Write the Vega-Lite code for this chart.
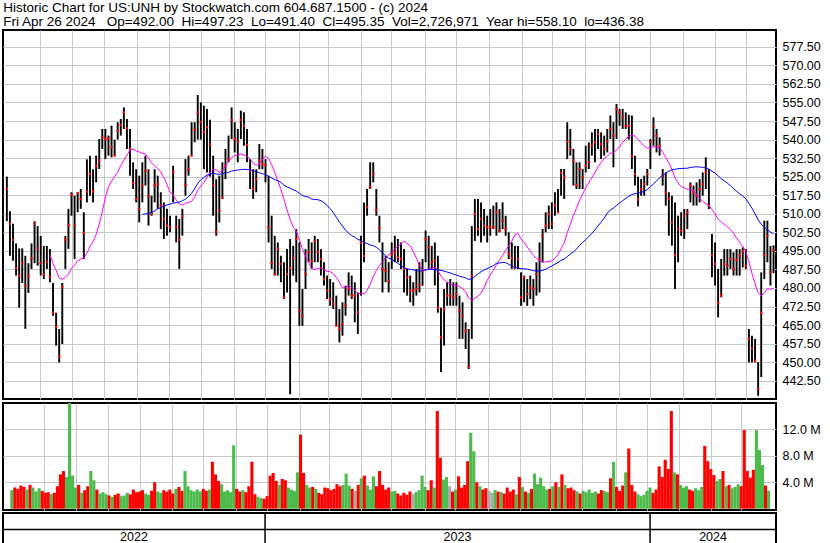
{
"$schema":"https://vega.github.io/schema/vega-lite/v6.json",
"background":"white",
"padding":{"left":1,"top":1,"right":0,"bottom":0},
"title":{"text":["Historic Chart for US:UNH by Stockwatch.com 604.687.1500 - (c) 2024","Fri Apr 26 2024\u00a0\u00a0 Op=492.00\u00a0 Hi=497.23\u00a0 Lo=491.40\u00a0 Cl=495.35\u00a0 Vol=2,726,971\u00a0 Year hi=558.10\u00a0 lo=436.38"],"anchor":"start","font":"Liberation Sans","fontSize":13.5,"fontWeight":"normal","color":"black","lineHeight":13.5,"offset":1,"dx":2},
"config":{"view":{"stroke":"black","strokeWidth":2},"axis":{"labelFont":"Liberation Sans","labelColor":"black","labelFontSize":12.5,"labelOverlap":false,"gridColor":"#c8c8c8","gridWidth":1,"gridOpacity":1,"ticks":false,"domain":false,"title":null},"font":"Liberation Sans"},
"datasets":{"p":[
{"i":-1,"h":525,"l":507,"c":520,"v":2.8},
{"i":1,"h":511,"l":493,"c":506,"v":3.2},
{"i":3,"h":506,"l":491,"c":499.5,"v":3.0},
{"i":5,"h":498,"l":485,"c":488,"v":3.5},
{"i":7,"h":496,"l":472,"c":485,"v":3.3},
{"i":9,"h":496,"l":482,"c":490,"v":2.9},
{"i":11,"h":493,"l":463.5,"c":481,"v":3.6},
{"i":13,"h":490,"l":478,"c":485,"v":3.2},
{"i":15,"h":498,"l":487.7,"c":492,"v":2.6},
{"i":17,"h":507,"l":490,"c":506,"v":3.1},
{"i":19,"h":505,"l":489,"c":496,"v":2.7},
{"i":21,"h":501,"l":485,"c":490,"v":2.4},
{"i":23,"h":497,"l":483.6,"c":485.5,"v":2.5},
{"i":25,"h":497,"l":487.7,"c":490.5,"v":2.2},
{"i":27,"h":495.7,"l":482.3,"c":484.5,"v":2.4},
{"i":29,"h":482,"l":468.8,"c":470,"v":3.4},
{"i":31,"h":470,"l":456.7,"c":464.3,"v":5.2},
{"i":33,"h":463.4,"l":449.9,"c":452.2,"v":5.7},
{"i":35,"h":482,"l":457.3,"c":480.3,"v":4.8},
{"i":37,"h":501,"l":487.7,"c":499.5,"v":16.5},
{"i":39,"h":512,"l":495.8,"c":505.4,"v":5.0},
{"i":41,"h":518.7,"l":509.2,"c":517.6,"v":3.2},
{"i":43,"h":517.3,"l":491.7,"c":505.2,"v":3.6},
{"i":45,"h":518.7,"l":510.6,"c":518.4,"v":2.4},
{"i":47,"h":520,"l":512,"c":516,"v":2.8},
{"i":49,"h":510.6,"l":491.7,"c":502.2,"v":3.4},
{"i":51,"h":532,"l":514.6,"c":519,"v":5.7},
{"i":53,"h":533.5,"l":517.3,"c":526,"v":4.3},
{"i":55,"h":528,"l":514.6,"c":519,"v":2.9},
{"i":57,"h":533.5,"l":522.7,"c":529.4,"v":2.3},
{"i":59,"h":540.2,"l":528.1,"c":531.5,"v":2.5},
{"i":61,"h":544.3,"l":536.2,"c":540.9,"v":2.2},
{"i":63,"h":544.3,"l":532.1,"c":540.2,"v":2.0},
{"i":65,"h":541.6,"l":533.5,"c":540.5,"v":1.8},
{"i":67,"h":545.6,"l":532.8,"c":536.9,"v":2.1},
{"i":69,"h":540,"l":533.5,"c":533.5,"v":2.3},
{"i":71,"h":547,"l":540,"c":543.6,"v":1.9},
{"i":73,"h":548.3,"l":541.6,"c":545.9,"v":2.0},
{"i":75,"h":553,"l":544.3,"c":551,"v":2.4},
{"i":77,"h":548.3,"l":536.2,"c":544.5,"v":2.2},
{"i":79,"h":544.3,"l":525.4,"c":536.2,"v":2.9},
{"i":81,"h":530.8,"l":520,"c":522.4,"v":2.5},
{"i":83,"h":528,"l":514.6,"c":516,"v":2.6},
{"i":85,"h":525.4,"l":506.5,"c":512,"v":2.8},
{"i":87,"h":530.8,"l":514.6,"c":521.4,"v":2.3},
{"i":89,"h":533.5,"l":521.4,"c":527.4,"v":2.1},
{"i":91,"h":528,"l":505.2,"c":517.3,"v":2.7},
{"i":93,"h":517.3,"l":509.2,"c":509.9,"v":4.0},
{"i":95,"h":528,"l":514.6,"c":521.4,"v":2.6},
{"i":97,"h":525.4,"l":512,"c":522,"v":2.4},
{"i":99,"h":518.7,"l":503.8,"c":513.3,"v":2.8},
{"i":101,"h":514.6,"l":499.8,"c":507.9,"v":2.6},
{"i":103,"h":512,"l":501.1,"c":505.2,"v":2.9},
{"i":105,"h":509.2,"l":502.5,"c":504.5,"v":2.3},
{"i":107,"h":529.4,"l":514.6,"c":527,"v":3.0},
{"i":109,"h":509.2,"l":498.4,"c":504.8,"v":3.3},
{"i":111,"h":507.9,"l":487.7,"c":499.5,"v":2.7},
{"i":113,"h":512,"l":501.1,"c":509,"v":5.7},
{"i":115,"h":532.1,"l":517.3,"c":521.7,"v":3.4},
{"i":117,"h":533.5,"l":525.4,"c":528,"v":2.8},
{"i":119,"h":547,"l":533.5,"c":533.5,"v":2.6},
{"i":121,"h":547,"l":538.9,"c":544,"v":2.9},
{"i":123,"h":558,"l":540,"c":551,"v":2.6},
{"i":125,"h":555,"l":540,"c":547,"v":3.0},
{"i":127,"h":553.7,"l":528,"c":543,"v":2.7},
{"i":129,"h":552.4,"l":526.7,"c":545,"v":2.9},
{"i":131,"h":548,"l":525,"c":538,"v":7.1},
{"i":133,"h":533.5,"l":509.2,"c":521.6,"v":5.2},
{"i":135,"h":524,"l":501.1,"c":502.8,"v":4.2},
{"i":137,"h":525.4,"l":506.5,"c":511.2,"v":3.7},
{"i":139,"h":530.8,"l":516,"c":516.6,"v":2.6},
{"i":141,"h":536.2,"l":524,"c":529.4,"v":2.8},
{"i":143,"h":541.6,"l":530.8,"c":531.9,"v":2.5},
{"i":145,"h":553,"l":540.2,"c":547.9,"v":9.6},
{"i":147,"h":547,"l":534.8,"c":540.2,"v":3.0},
{"i":149,"h":544.3,"l":530.8,"c":539.1,"v":2.6},
{"i":151,"h":551.7,"l":540.2,"c":548,"v":2.8},
{"i":153,"h":551,"l":537.5,"c":545.6,"v":2.5},
{"i":155,"h":544.3,"l":530.8,"c":537.8,"v":3.4},
{"i":157,"h":532.1,"l":520,"c":527.4,"v":7.1},
{"i":159,"h":528,"l":516,"c":520,"v":2.2},
{"i":161,"h":528,"l":518.7,"c":524,"v":1.8},
{"i":163,"h":538.2,"l":528,"c":531.5,"v":1.6},
{"i":165,"h":536.2,"l":528,"c":530.1,"v":1.5},
{"i":167,"h":532.1,"l":522.7,"c":529.7,"v":1.9},
{"i":169,"h":525.4,"l":498.4,"c":504.5,"v":5.0},
{"i":171,"h":509.2,"l":487.7,"c":490,"v":5.4},
{"i":173,"h":501.1,"l":485,"c":485.6,"v":4.2},
{"i":175,"h":498.4,"l":485,"c":495.8,"v":3.6},
{"i":177,"h":493,"l":482.3,"c":489.7,"v":4.5},
{"i":179,"h":490.4,"l":475.5,"c":476.2,"v":4.3},
{"i":181,"h":495.7,"l":478.2,"c":485.6,"v":3.2},
{"i":183,"h":499.8,"l":437,"c":488,"v":2.9},
{"i":185,"h":497,"l":485,"c":492,"v":2.7},
{"i":187,"h":503.8,"l":482.3,"c":499.8,"v":5.5},
{"i":189,"h":498.4,"l":464.7,"c":470.8,"v":11.2},
{"i":191,"h":479.6,"l":464.7,"c":468.8,"v":5.4},
{"i":193,"h":495.7,"l":479.6,"c":485.6,"v":3.6},
{"i":195,"h":499.8,"l":490.4,"c":494.4,"v":3.2},
{"i":197,"h":498.4,"l":487.7,"c":491,"v":3.3},
{"i":199,"h":501.1,"l":490.4,"c":499.1,"v":3.0},
{"i":201,"h":499.8,"l":490.4,"c":494.4,"v":2.4},
{"i":203,"h":495.7,"l":485,"c":491.7,"v":2.2},
{"i":205,"h":490.4,"l":481,"c":483.6,"v":3.2},
{"i":207,"h":485,"l":475.5,"c":478.9,"v":3.1},
{"i":209,"h":483.6,"l":472.8,"c":475.5,"v":2.8},
{"i":211,"h":482.3,"l":471.5,"c":473.5,"v":3.0},
{"i":213,"h":476.9,"l":464.7,"c":464.7,"v":3.7},
{"i":215,"h":471.5,"l":458,"c":463.4,"v":3.4},
{"i":217,"h":474.2,"l":460.7,"c":465.4,"v":3.6},
{"i":219,"h":480.9,"l":468.8,"c":472.8,"v":5.3},
{"i":221,"h":486.3,"l":476.9,"c":479.6,"v":3.5},
{"i":223,"h":485,"l":475.5,"c":476.9,"v":3.0},
{"i":225,"h":482.3,"l":466.1,"c":476.9,"v":2.7},
{"i":227,"h":478.2,"l":461.4,"c":470.1,"v":3.6},
{"i":229,"h":501.1,"l":476.9,"c":498.4,"v":4.6},
{"i":231,"h":514.6,"l":490.4,"c":493,"v":5.0},
{"i":233,"h":520,"l":509.2,"c":512.6,"v":3.5},
{"i":235,"h":530.8,"l":520,"c":520.7,"v":2.9},
{"i":237,"h":530.8,"l":522.7,"c":526.1,"v":4.9},
{"i":239,"h":520,"l":509.2,"c":511.5,"v":3.4},
{"i":241,"h":509.2,"l":498.4,"c":504.1,"v":5.7},
{"i":243,"h":498.4,"l":478.2,"c":487.6,"v":3.6},
{"i":245,"h":493,"l":482.3,"c":487,"v":2.9},
{"i":247,"h":490.4,"l":478.2,"c":482.9,"v":3.2},
{"i":249,"h":498.4,"l":487.7,"c":493.4,"v":2.6},
{"i":251,"h":501.1,"l":490.4,"c":494.4,"v":2.7},
{"i":253,"h":499.8,"l":490.4,"c":492.4,"v":2.3},
{"i":255,"h":498.4,"l":487.7,"c":491.7,"v":2.0},
{"i":257,"h":495.7,"l":478.2,"c":487.7,"v":2.4},
{"i":259,"h":487.7,"l":476.9,"c":484.3,"v":2.1},
{"i":261,"h":485,"l":474.2,"c":478.9,"v":2.6},
{"i":263,"h":482.3,"l":472.8,"c":478.9,"v":2.2},
{"i":265,"h":487.7,"l":476.9,"c":479.6,"v":2.5},
{"i":267,"h":490.4,"l":478.2,"c":481.2,"v":2.8},
{"i":269,"h":491.7,"l":480.9,"c":487,"v":5.0},
{"i":271,"h":503.2,"l":490.4,"c":499.8,"v":3.3},
{"i":273,"h":501.1,"l":487.7,"c":496.4,"v":2.8},
{"i":275,"h":497,"l":487.7,"c":490.4,"v":4.3},
{"i":277,"h":498.4,"l":481,"c":491,"v":3.2},
{"i":279,"h":493,"l":470,"c":472,"v":14.8},
{"i":281,"h":472,"l":446,"c":460,"v":7.7},
{"i":283,"h":479.6,"l":456.7,"c":471.3,"v":4.4},
{"i":285,"h":482.3,"l":472.8,"c":476.9,"v":4.8},
{"i":287,"h":483.6,"l":472.8,"c":476.9,"v":3.4},
{"i":289,"h":482.3,"l":472.8,"c":476.2,"v":2.6},
{"i":291,"h":482.3,"l":472.8,"c":477.6,"v":2.9},
{"i":293,"h":476.9,"l":459.4,"c":470.8,"v":4.9},
{"i":295,"h":474.2,"l":459.4,"c":468.8,"v":3.2},
{"i":297,"h":466.1,"l":455.3,"c":462.7,"v":3.6},
{"i":299,"h":463.4,"l":447.2,"c":448,"v":7.2},
{"i":301,"h":505,"l":459.4,"c":485,"v":11.5},
{"i":303,"h":516,"l":499,"c":510,"v":8.7},
{"i":305,"h":516,"l":501.1,"c":503.8,"v":4.0},
{"i":307,"h":514.6,"l":498.4,"c":507.9,"v":3.4},
{"i":309,"h":511.9,"l":501.1,"c":505.2,"v":2.9},
{"i":311,"h":509.2,"l":498.4,"c":504.5,"v":3.1},
{"i":313,"h":511.9,"l":501.1,"c":504.5,"v":2.7},
{"i":315,"h":513.3,"l":503.8,"c":504.5,"v":2.4},
{"i":317,"h":514.6,"l":501.1,"c":510.6,"v":2.8},
{"i":319,"h":511.9,"l":502.5,"c":503.2,"v":2.6},
{"i":321,"h":514.6,"l":503.8,"c":507.2,"v":2.5},
{"i":323,"h":509.2,"l":501.1,"c":503.8,"v":2.3},
{"i":325,"h":502.5,"l":491.7,"c":493.7,"v":3.2},
{"i":327,"h":498.4,"l":487.7,"c":492,"v":2.6},
{"i":329,"h":497,"l":487.7,"c":488.3,"v":2.9},
{"i":331,"h":497,"l":487.7,"c":491.7,"v":2.2},
{"i":333,"h":486.3,"l":472.8,"c":476.2,"v":4.8},
{"i":335,"h":485,"l":474.2,"c":484.3,"v":3.3},
{"i":337,"h":483.6,"l":472.8,"c":477.5,"v":2.6},
{"i":339,"h":485,"l":475.5,"c":480.2,"v":2.4},
{"i":341,"h":483.6,"l":472.8,"c":479.6,"v":3.0},
{"i":343,"h":490.4,"l":476.9,"c":485.6,"v":5.3},
{"i":345,"h":498.4,"l":478.2,"c":491.7,"v":3.7},
{"i":347,"h":503.8,"l":490.4,"c":501.1,"v":4.7},
{"i":349,"h":510.6,"l":502.5,"c":505.2,"v":3.4},
{"i":351,"h":513.3,"l":503.8,"c":509.9,"v":2.9},
{"i":353,"h":514.6,"l":503.8,"c":505.9,"v":3.0},
{"i":355,"h":518.7,"l":509.2,"c":513.3,"v":3.4},
{"i":357,"h":520,"l":510.6,"c":510.6,"v":4.0},
{"i":359,"h":528.1,"l":517.3,"c":526.5,"v":3.3},
{"i":361,"h":528.1,"l":516,"c":524.7,"v":5.2},
{"i":363,"h":547,"l":532.1,"c":539.1,"v":3.6},
{"i":365,"h":544.3,"l":533.5,"c":536.2,"v":3.1},
{"i":367,"h":536.2,"l":521.4,"c":531.5,"v":3.2},
{"i":369,"h":530.8,"l":520,"c":521.6,"v":2.8},
{"i":371,"h":530.8,"l":520,"c":528.1,"v":2.6},
{"i":373,"h":528.1,"l":520,"c":524.7,"v":2.3},
{"i":375,"h":537.5,"l":526.7,"c":529.4,"v":2.7},
{"i":377,"h":538.9,"l":528.1,"c":530.8,"v":2.5},
{"i":379,"h":542.9,"l":533.5,"c":537.5,"v":2.9},
{"i":381,"h":544.3,"l":530.8,"c":538.9,"v":2.4},
{"i":383,"h":544.3,"l":536.2,"c":542.2,"v":2.6},
{"i":385,"h":542.9,"l":532.1,"c":538.2,"v":2.3},
{"i":387,"h":541.6,"l":533.5,"c":536.2,"v":2.8},
{"i":389,"h":544.3,"l":534.8,"c":539.3,"v":2.7},
{"i":391,"h":549.7,"l":540.2,"c":544.3,"v":2.5},
{"i":393,"h":547,"l":528.8,"c":541.6,"v":4.6},
{"i":395,"h":554.4,"l":540.2,"c":552.4,"v":7.1},
{"i":397,"h":552.4,"l":545.6,"c":551,"v":3.3},
{"i":399,"h":552.4,"l":544.3,"c":549,"v":2.7},
{"i":401,"h":551,"l":544.3,"c":545.4,"v":3.5},
{"i":403,"h":550,"l":540,"c":545.6,"v":5.5},
{"i":405,"h":549.7,"l":528.1,"c":533.5,"v":9.1},
{"i":407,"h":533.5,"l":521.4,"c":526.1,"v":3.6},
{"i":409,"h":525,"l":513,"c":515.7,"v":2.6},
{"i":411,"h":524,"l":517.3,"c":520,"v":2.2},
{"i":413,"h":525.4,"l":517.3,"c":522,"v":1.9},
{"i":415,"h":528.1,"l":521.4,"c":526.1,"v":2.1},
{"i":417,"h":540.2,"l":528.1,"c":539.1,"v":2.7},
{"i":419,"h":549,"l":537.5,"c":545.3,"v":3.2},
{"i":421,"h":544.3,"l":534.8,"c":541.6,"v":2.4},
{"i":423,"h":540.9,"l":533.5,"c":537.5,"v":2.9},
{"i":425,"h":528.1,"l":521.4,"c":525.4,"v":6.4},
{"i":427,"h":526.7,"l":513.3,"c":518.7,"v":4.8},
{"i":429,"h":518.7,"l":501.1,"c":516,"v":7.4},
{"i":431,"h":517.3,"l":497.1,"c":506.5,"v":6.0},
{"i":433,"h":514.6,"l":479.6,"c":493.3,"v":14.8},
{"i":435,"h":509.2,"l":490.4,"c":504,"v":5.5},
{"i":437,"h":510.6,"l":501.1,"c":503.2,"v":5.2},
{"i":439,"h":511.9,"l":499.8,"c":509.2,"v":3.6},
{"i":441,"h":511.9,"l":503.8,"c":510.6,"v":3.2},
{"i":443,"h":522.7,"l":514.6,"c":521.4,"v":3.4},
{"i":445,"h":521.4,"l":513.3,"c":518.7,"v":2.9},
{"i":447,"h":522.7,"l":513.3,"c":517.3,"v":2.7},
{"i":449,"h":524,"l":514.6,"c":520,"v":3.1},
{"i":451,"h":526.7,"l":517.3,"c":522,"v":2.8},
{"i":453,"h":532.8,"l":520,"c":526.7,"v":3.3},
{"i":455,"h":528.1,"l":511.9,"c":513.3,"v":9.5},
{"i":457,"h":501.8,"l":484.3,"c":493.3,"v":7.2},
{"i":459,"h":498.4,"l":481,"c":489.7,"v":6.0},
{"i":461,"h":487.7,"l":468.1,"c":474,"v":5.1},
{"i":463,"h":491.7,"l":476.2,"c":476.9,"v":4.2},
{"i":465,"h":495.7,"l":485,"c":489.7,"v":4.5},
{"i":467,"h":495.7,"l":485,"c":489,"v":5.7},
{"i":469,"h":495.7,"l":487.7,"c":491.7,"v":3.4},
{"i":471,"h":494.4,"l":485,"c":487.7,"v":3.6},
{"i":473,"h":495.7,"l":485,"c":491.4,"v":3.1},
{"i":475,"h":495.7,"l":485,"c":493,"v":3.3},
{"i":477,"h":496.4,"l":488.3,"c":494.7,"v":3.7},
{"i":479,"h":495.7,"l":487.7,"c":489,"v":3.4},
{"i":481,"h":463.4,"l":449.9,"c":459.4,"v":11.9},
{"i":483,"h":460.7,"l":449.9,"c":455.6,"v":5.7},
{"i":485,"h":459.4,"l":449.9,"c":450.6,"v":4.7},
{"i":487,"h":450,"l":436.4,"c":439.1,"v":5.9},
{"i":489,"h":486.3,"l":444,"c":470,"v":11.9},
{"i":491,"h":507.2,"l":483.6,"c":493.3,"v":8.9},
{"i":493,"h":507.2,"l":490.4,"c":501.1,"v":6.6},
{"i":495,"h":497,"l":481,"c":486.3,"v":3.5},
{"i":497,"h":497.23,"l":486,"c":495.35,"v":2.73}
]},
"spacing":2,
"vconcat":[
{"width":773,"height":369,"data":{"name":"p"},
 "encoding":{"x":{"field":"i","type":"quantitative","scale":{"domain":[-3.5,498.6],"nice":false,"zero":false},"axis":{"orient":"bottom","values":[20.5,41.3,62.1,83.5,104.3,125.1,146.5,166.7,188.8,207.6,229,248.5,270.6,290.8,312.2,333.6,353.1,374.5,396.6,416.8,438.2,458.9,479.1],"tickCount":60,"labels":false,"grid":true,"minExtent":0,"maxExtent":0}}},
 "layer":[
  {"mark":{"type":"rule","color":"black","strokeWidth":1.9},
   "encoding":{"y":{"field":"l","type":"quantitative","scale":{"domain":[435.1,584.3],"nice":false,"zero":false},"axis":{"orient":"right","values":[442.5,450,457.5,465,472.5,480,487.5,495,502.5,510,517.5,525,532.5,540,547.5,555,562.5,570,577.5],"tickCount":60,"format":".2f","labelPadding":6,"labelOverlap":false,"labelFontSize":12.5,"grid":true}},"y2":{"field":"h"}}},
  {"mark":{"type":"square","color":"red","size":5,"opacity":1},
   "encoding":{"y":{"field":"c","type":"quantitative"}}},
  {"transform":[{"window":[{"op":"mean","field":"c","as":"ma"},{"op":"count","as":"n"}],"frame":[-14,0],"sort":[{"field":"i"}]},{"filter":"datum.n >= 15"}],
   "mark":{"type":"line","color":"#ff00ff","strokeWidth":1},
   "encoding":{"y":{"field":"ma","type":"quantitative"}}},
  {"transform":[{"window":[{"op":"mean","field":"c","as":"ma"},{"op":"count","as":"n"}],"frame":[-44,0],"sort":[{"field":"i"}]},{"filter":"datum.n >= 45"}],
   "mark":{"type":"line","color":"#0000ff","strokeWidth":1},
   "encoding":{"y":{"field":"ma","type":"quantitative"}}},
  {"data":{"values":[{}]},
   "mark":{"type":"text","text":"US:UNH","align":"left","baseline":"alphabetic","font":"Liberation Sans","fontSize":12.5,"color":"black"},
   "encoding":{"x":{"datum":2.35},"y":{"datum":578.2}}},
  {"data":{"values":[{"y":584.3},{"y":435.1}]},
   "mark":{"type":"rule","color":"black","strokeWidth":2},
   "encoding":{"x":{"datum":498.6},"x2":{"datum":535},"y":{"field":"y","type":"quantitative"}}}
 ]},
{"spacing":0,"vconcat":[
 {"width":773,"height":107,"data":{"name":"p"},
  "transform":[{"window":[{"op":"lag","field":"c","as":"pc"}],"sort":[{"field":"i"}]},{"calculate":"datum.pc == null || datum.c > datum.pc ? 'up' : (datum.c < datum.pc ? 'dn' : 'eq')","as":"dir"}],
  "encoding":{"x":{"field":"i","type":"quantitative","scale":{"domain":[-3.5,498.6],"nice":false,"zero":false},"axis":{"orient":"bottom","values":[20.5,41.3,62.1,83.5,104.3,125.1,146.5,166.7,188.8,207.6,229,248.5,270.6,290.8,312.2,333.6,353.1,374.5,396.6,416.8,438.2,458.9,479.1],"tickCount":60,"labels":false,"grid":true,"minExtent":0,"maxExtent":0}}},
  "layer":[
   {"mark":{"type":"bar","width":3.1,"clip":true},
    "encoding":{"y":{"field":"v","type":"quantitative","scale":{"domain":[-0.2,16],"nice":false,"zero":false},"axis":{"orient":"right","values":[4,8,12],"tickCount":10,"labelExpr":"format(datum.value,'.1f') + ' M'","labelPadding":6,"labelOverlap":false,"grid":true}},
     "color":{"field":"dir","type":"nominal","scale":{"domain":["up","dn","eq"],"range":["#4cbb4c","#ff0000","#aaaaaa"]},"legend":null}}},
   {"data":{"values":[{}]},
    "mark":{"type":"text","text":"Volume","align":"left","baseline":"alphabetic","font":"Liberation Sans","fontSize":13,"color":"black"},
    "encoding":{"x":{"datum":2.35},"y":{"datum":13.62}}}
  ]},
 {"width":773,"height":32,
  "data":{"values":[{"yr":"2022","m":81.6,"e":166.7},{"yr":"2023","m":291.7,"e":416.8},{"yr":"2024","m":457.7,"e":null}]},
  "encoding":{"x":{"type":"quantitative","scale":{"domain":[-3.5,498.6],"nice":false,"zero":false},"axis":null}},
  "layer":[
   {"transform":[{"filter":"datum.e != null"}],"mark":{"type":"rule","color":"black","strokeWidth":1.5},"encoding":{"x":{"field":"e","type":"quantitative"}}},
   {"data":{"values":[{}]},"mark":{"type":"rule","color":"black","strokeWidth":1.5},"encoding":{"y":{"datum":0.97,"type":"quantitative","scale":{"domain":[0,2],"nice":false,"zero":false},"axis":null}}},
   {"mark":{"type":"text","font":"Liberation Sans","fontSize":12.5,"color":"black","baseline":"middle","align":"center"},"encoding":{"x":{"field":"m","type":"quantitative"},"y":{"datum":0.47,"type":"quantitative"},"text":{"field":"yr"}}}
  ]}
]}
]
}
